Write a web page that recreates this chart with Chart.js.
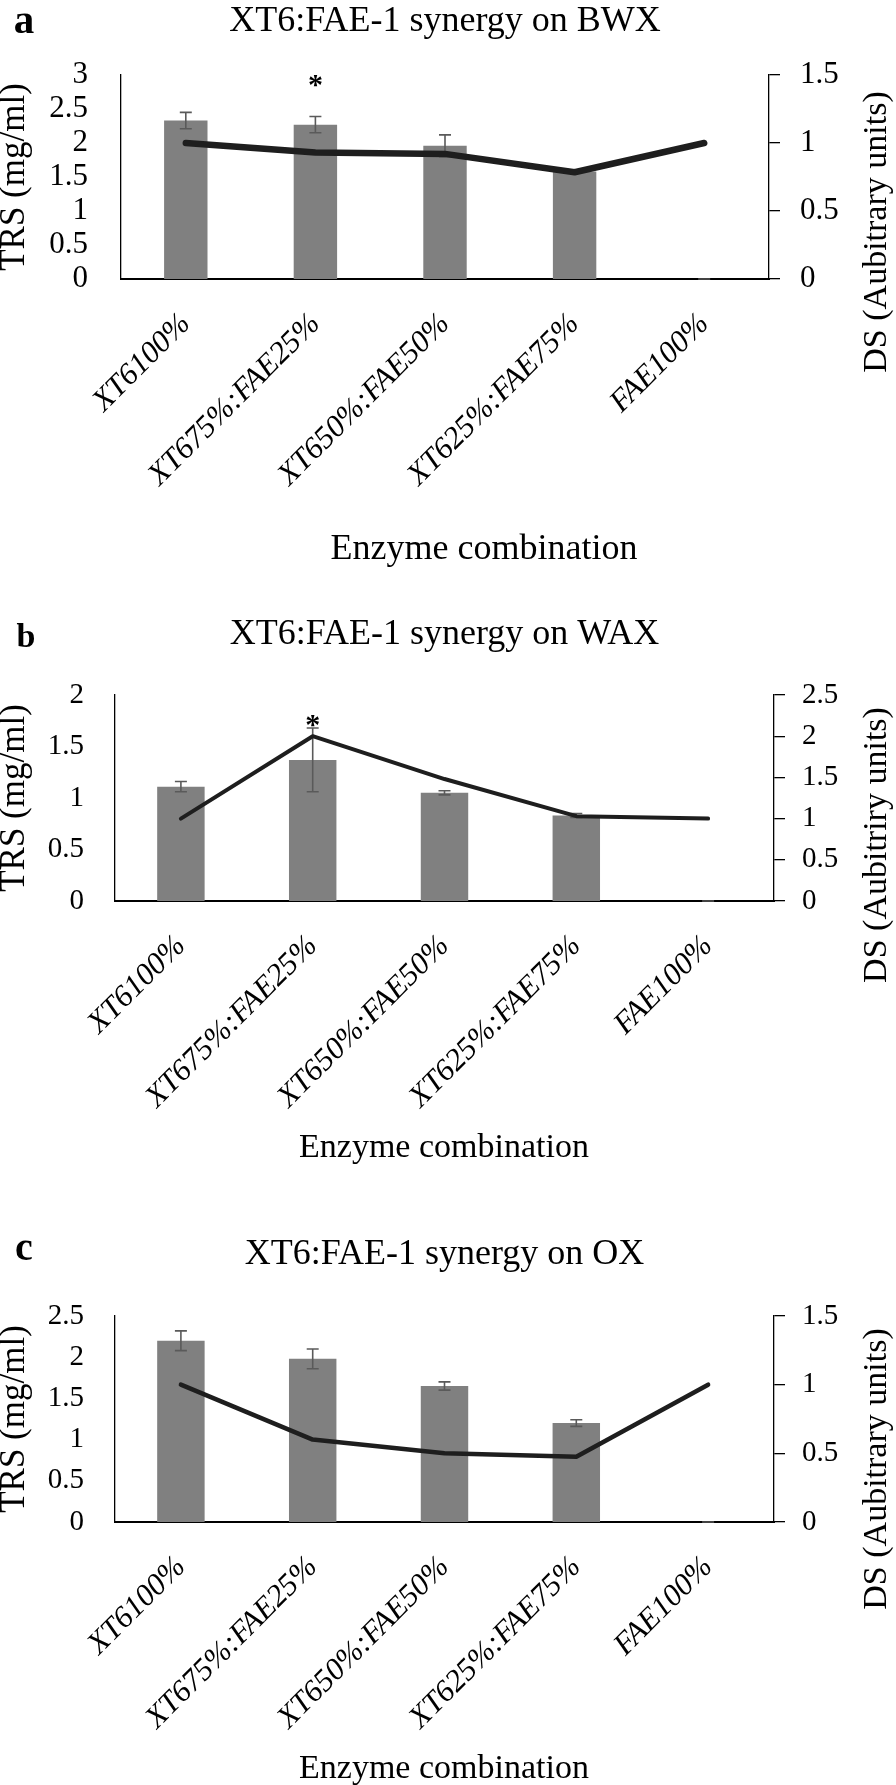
<!DOCTYPE html>
<html>
<head>
<meta charset="utf-8">
<script src="https://cdn.jsdelivr.net/npm/chart.js@4.4.1/dist/chart.umd.min.js"></script>
<style>
  html, body { margin: 0; padding: 0; background: #fff; }
  #wrap { position: relative; width: 896px; height: 1785px; }
  canvas { position: absolute; left: 0; }
</style>
</head>
<body>
<div id="wrap">
  <canvas id="chartA" width="896" height="590" style="top:0px"></canvas>
  <canvas id="chartB" width="896" height="600" style="top:590px"></canvas>
  <canvas id="chartC" width="896" height="595" style="top:1190px"></canvas>
</div>
<script>
const combos = ['XT6100%', 'XT675%:FAE25%', 'XT650%:FAE50%', 'XT625%:FAE75%', 'FAE100%'];
const yTicksStep = 0.5;

// a: BWX
const trsBWX = [2.33, 2.27, 1.96, 1.58, 0];
const errBWX = [0.12, 0.12, 0.16, 0, 0];
const dsBWX = [1.0, 0.93, 0.92, 0.785, 1.0];
const starsBWX = [null, 2.89, null, null, null];

// b: WAX
const trsWAX = [1.11, 1.37, 1.05, 0.83, 0];
const errWAX = [0.05, 0.31, 0.02, 0.02, 0];
const dsWAX = [1.0, 2.0, 1.48, 1.03, 1.0];
const starsWAX = [null, 1.74, null, null, null];

// c: OX
const trsOX = [2.2, 1.98, 1.65, 1.2, 0];
const errOX = [0.12, 0.12, 0.05, 0.04, 0];
const dsOX = [1.0, 0.6, 0.5, 0.475, 1.0];
const starsOX = [null, null, null, null, null];

const serif = "'Liberation Serif', 'Times New Roman', serif";
Chart.defaults.font.family = serif;
Chart.defaults.color = '#000';

// error bars, panel letter, x title, right axis title and asterisks
const extras = {
  id: 'extras',
  afterDatasetDraw(chart, args) {
    const ds = chart.data.datasets[args.index];
    if (!ds.errorBars) return;
    const y = chart.scales[ds.yAxisID];
    const ctx = chart.ctx;
    ctx.save();
    ctx.strokeStyle = '#5a5a5a';
    ctx.lineWidth = 1.6;
    args.meta.data.forEach((bar, i) => {
      const v = ds.data[i], e = ds.errorBars[i];
      if (e == null) return;
      const top = y.getPixelForValue(v + e), bot = y.getPixelForValue(v - e);
      ctx.beginPath();
      ctx.moveTo(bar.x, top); ctx.lineTo(bar.x, bot);
      ctx.moveTo(bar.x - 6, top); ctx.lineTo(bar.x + 6, top);
      ctx.moveTo(bar.x - 6, bot); ctx.lineTo(bar.x + 6, bot);
      ctx.stroke();
    });
    ctx.restore();
  },
  afterDraw(chart, args, o) {
    const ctx = chart.ctx;
    ctx.save();
    ctx.fillStyle = '#000';
    ctx.textAlign = 'center';
    ctx.textBaseline = 'alphabetic';
    ctx.font = `bold ${o.letterSize}px ${serif}`;
    ctx.fillText(o.letter, o.letterX, o.letterY);
    ctx.font = `${o.xTitleSize}px ${serif}`;
    ctx.fillText(o.xTitle, o.xTitleX, o.xTitleY);

    ctx.save();
    ctx.translate(o.rTitleX, o.rTitleY);
    ctx.rotate(-Math.PI / 2);
    ctx.textBaseline = 'middle';
    ctx.font = `${o.rTitleSize}px ${serif}`;
    ctx.fillText(o.rTitle, 0, 0);
    ctx.restore();

    const xs = chart.scales.x, ys = chart.scales.y;
    ctx.font = `bold 30px ${serif}`;
    ctx.textBaseline = 'middle';
    o.stars.forEach((v, i) => {
      if (v != null) ctx.fillText('*', xs.getPixelForValue(i), ys.getPixelForValue(v) + 4);
    });
    ctx.restore();
  }
};

function makeChart(id, d, L) {
  return new Chart(document.getElementById(id), {
    type: 'bar',
    data: {
      labels: combos,
      datasets: [
        {
          type: 'line', data: d.ds, yAxisID: 'y1', order: 0,
          borderColor: '#1e1e1e', borderWidth: L.lineWidth, pointRadius: 0,
          borderCapStyle: 'round', borderJoinStyle: 'round', tension: 0
        },
        {
          type: 'bar', data: d.trs, errorBars: d.err, yAxisID: 'y', order: 1,
          backgroundColor: '#808080', barPercentage: L.barPct, categoryPercentage: 1
        }
      ]
    },
    options: {
      responsive: false,
      animation: false,
      devicePixelRatio: 1,
      layout: { padding: 0 },
      plugins: {
        legend: { display: false },
        tooltip: { enabled: false },
        title: {
          display: true, text: d.title, fullSize: false, color: '#000',
          font: { size: 36, weight: 'normal', lineHeight: 1.2 },
          padding: { top: L.titleTop, bottom: L.top - 43.2 - L.titleTop }
        },
        extras: {
          letter: d.letter, letterSize: L.letterSize, letterX: L.letterX, letterY: L.letterY,
          xTitle: 'Enzyme combination', xTitleSize: L.xTitleSize, xTitleX: L.xTitleX, xTitleY: L.xTitleY,
          rTitle: d.rTitle, rTitleSize: 34, rTitleX: 877, rTitleY: L.rTitleY,
          stars: d.stars
        }
      },
      scales: {
        x: {
          grid: { display: false, drawTicks: false },
          border: { display: true, color: '#000', width: 2 },
          ticks: {
            autoSkip: false, minRotation: 45, maxRotation: 45, padding: 27, color: '#000',
            font: { size: 31, style: 'italic', lineHeight: 1.2 }
          },
          afterFit: s => { s.height = L.h - L.bottom; }
        },
        y: {
          position: 'left', min: 0, max: d.yMax,
          grid: { display: false, drawTicks: false },
          border: { display: true, color: '#000', width: 1.3 },
          ticks: {
            stepSize: yTicksStep, autoSkip: false, padding: L.yPad, color: '#000',
            font: { size: L.tickSize, lineHeight: 1 }, callback: v => String(v)
          },
          title: {
            display: true, text: 'TRS (mg/ml)', color: '#000', padding: 0,
            font: { size: 35, lineHeight: 0.86 }
          },
          afterFit: s => { s.width = L.left; }
        },
        y1: {
          position: 'right', min: 0, max: d.y1Max,
          grid: { display: true, drawOnChartArea: false, drawTicks: true, tickLength: 11, color: '#000', lineWidth: 1.3 },
          border: { display: true, color: '#000', width: 1.3 },
          ticks: {
            stepSize: yTicksStep, autoSkip: false, padding: L.y1Pad, color: '#000',
            font: { size: L.tickSize, lineHeight: 1 }, callback: v => String(v)
          },
          afterFit: s => { s.width = 896 - L.right; }
        }
      }
    },
    plugins: [extras]
  });
}

makeChart('chartA',
  { title: 'XT6:FAE-1 synergy on BWX', letter: 'a', rTitle: 'DS (Aubitrary units)',
    trs: trsBWX, err: errBWX, ds: dsBWX, stars: starsBWX, yMax: 3, y1Max: 1.5 },
  { h: 590, top: 75, bottom: 279, left: 121, right: 769, titleTop: 0,
    yPad: 33, y1Pad: 20, tickSize: 31, lineWidth: 6.5, barPct: 0.335,
    letterSize: 41, letterX: 24, letterY: 33,
    xTitleSize: 36, xTitleX: 484, xTitleY: 559, rTitleY: 232 });

makeChart('chartB',
  { title: 'XT6:FAE-1 synergy on WAX', letter: 'b', rTitle: 'DS (Aubitriry units)',
    trs: trsWAX, err: errWAX, ds: dsWAX, stars: starsWAX, yMax: 2, y1Max: 2.5 },
  { h: 600, top: 105, bottom: 311, left: 115, right: 774, titleTop: 23,
    yPad: 31, y1Pad: 17, tickSize: 29, lineWidth: 4, barPct: 0.36,
    letterSize: 34, letterX: 26, letterY: 57,
    xTitleSize: 34, xTitleX: 444, xTitleY: 567, rTitleY: 255 });

makeChart('chartC',
  { title: 'XT6:FAE-1 synergy on OX', letter: 'c', rTitle: 'DS (Aubitrary units)',
    trs: trsOX, err: errOX, ds: dsOX, stars: starsOX, yMax: 2.5, y1Max: 1.5 },
  { h: 595, top: 126, bottom: 332, left: 115, right: 774, titleTop: 43,
    yPad: 31, y1Pad: 17, tickSize: 29, lineWidth: 4.5, barPct: 0.36,
    letterSize: 40, letterX: 24, letterY: 70,
    xTitleSize: 34, xTitleX: 444, xTitleY: 588, rTitleY: 279 });
</script>
</body>
</html>
